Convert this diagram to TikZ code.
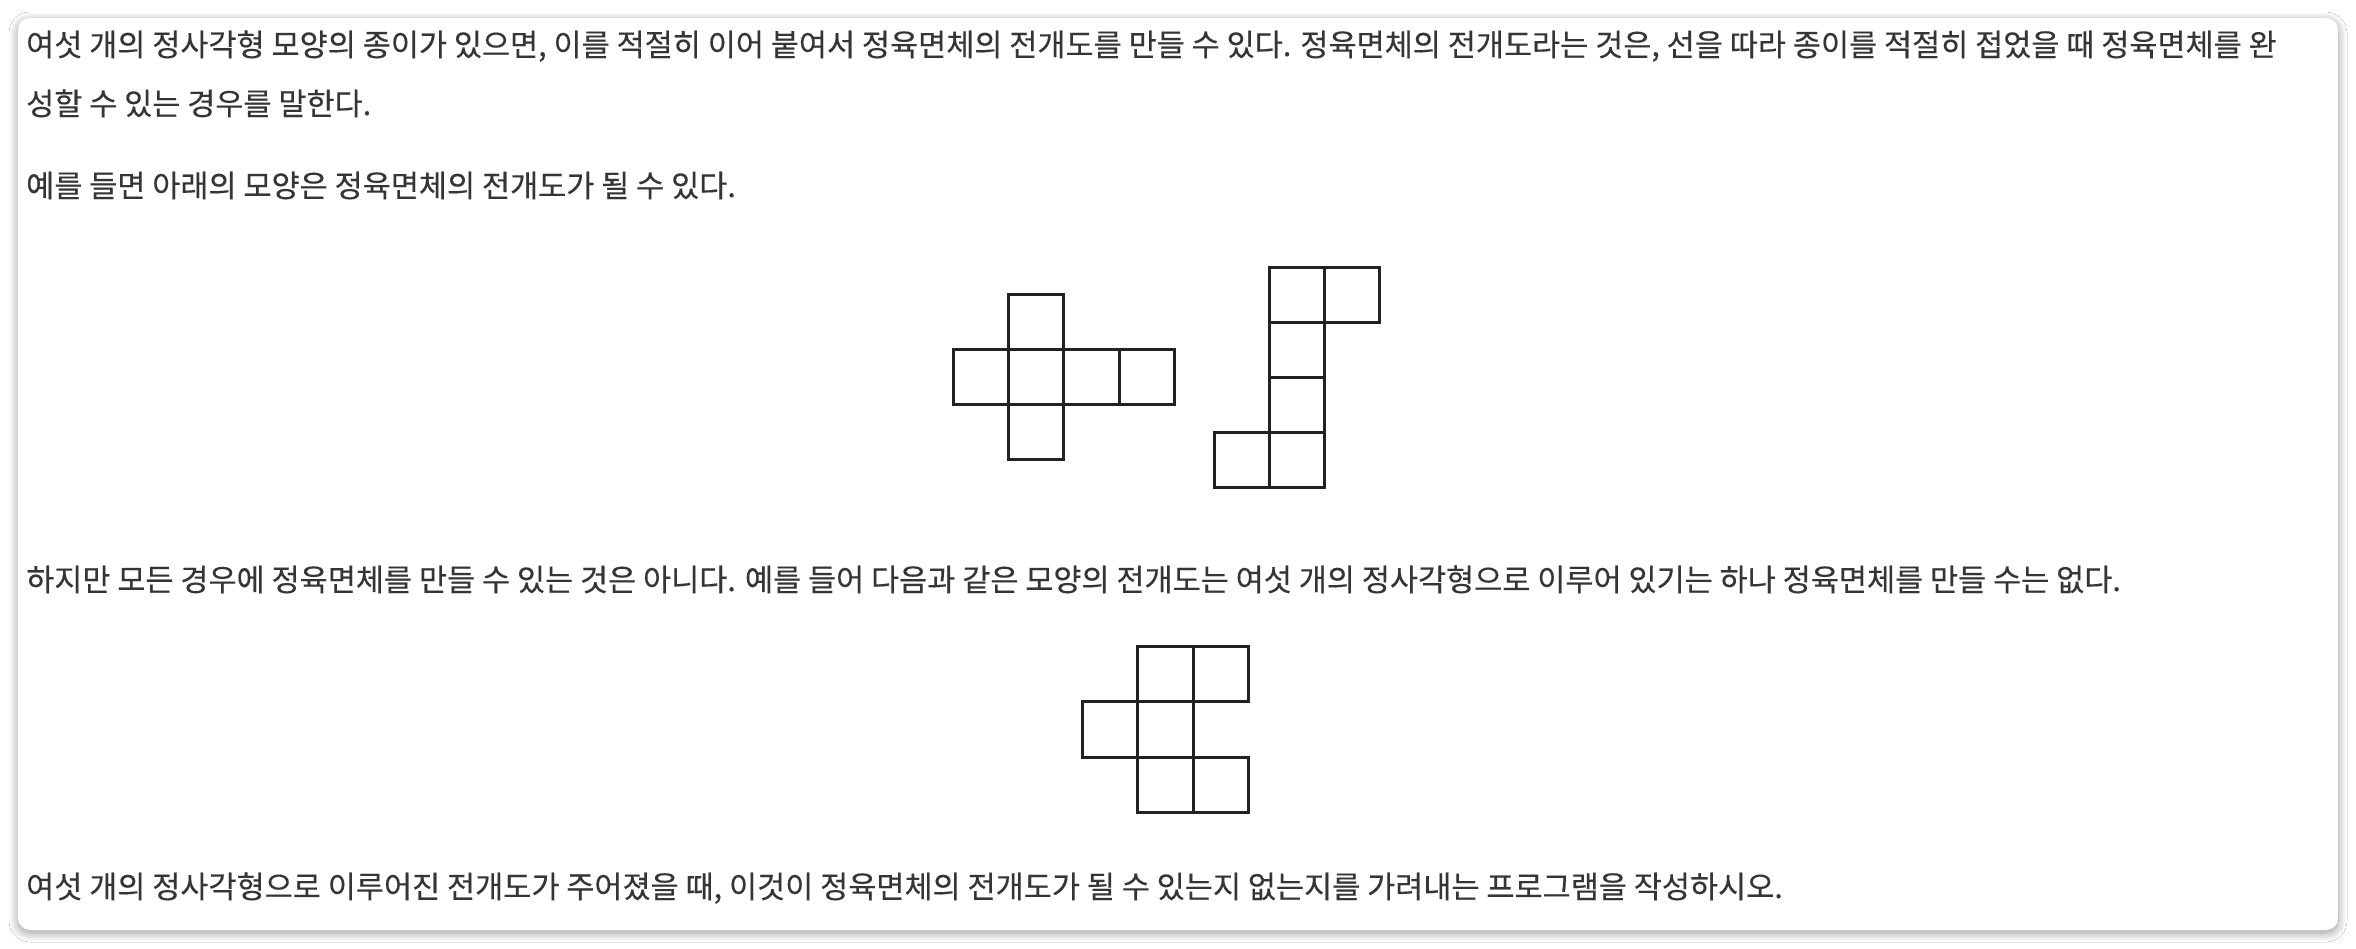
\documentclass[tikz,border=0pt]{standalone}
\usepackage{fontspec}
\newfontfamily\kr[FakeBold=0.3]{Noto Sans CJK KR}
\usetikzlibrary{shadows.blur}
\definecolor{txt}{HTML}{353535}
\definecolor{ink}{HTML}{222222}
\tikzset{
  para/.style={anchor=base west, inner sep=0pt, text=txt, font=\kr\fontsize{30.55}{36}\selectfont},
  cell/.style={draw=ink, line width=3pt},
  card/.style={fill=white, rounded corners=12pt,
    blur shadow={shadow xshift=0pt, shadow yshift=-3pt, shadow blur radius=9pt, shadow opacity=40, shadow blur steps=12}}
}
\begin{document}
\begin{tikzpicture}[x=1pt,y=-1pt]
\fill[white] (0,0) rectangle (2356,948);
\useasboundingbox (0,0) rectangle (2356,948);
\path[card] (18,18) rectangle (2338,930);
\node[para] (l1) at (26,56) {여섯 개의 정사각형 모양의 종이가 있으면, 이를 적절히 이어 붙여서 정육면체의 전개도를 만들 수 있다. 정육면체의 전개도라는 것은, 선을 따라 종이를 적절히 접었을 때 정육면체를 완};
\node[para] (l2) at (26,115) {성할 수 있는 경우를 말한다.};
\node[para] (l3) at (26,197) {예를 들면 아래의 모양은 정육면체의 전개도가 될 수 있다.};
\node[para] (l4) at (26,591) {하지만 모든 경우에 정육면체를 만들 수 있는 것은 아니다. 예를 들어 다음과 같은 모양의 전개도는 여섯 개의 정사각형으로 이루어 있기는 하나 정육면체를 만들 수는 없다.};
\node[para] (l5) at (26,898) {여섯 개의 정사각형으로 이루어진 전개도가 주어졌을 때, 이것이 정육면체의 전개도가 될 수 있는지 없는지를 가려내는 프로그램을 작성하시오.};
% net 1: cross
\foreach \c/\r in {1/0,0/1,1/1,2/1,3/1,1/2}
  \draw[cell] (953.7+55.1*\c,294.5+55.1*\r) rectangle ++(55.1,55.1);
% net 2
\foreach \c/\r in {1/0,2/0,1/1,1/2,0/3,1/3}
  \draw[cell] (1214+55.1*\c,267.3+55.1*\r) rectangle ++(55.1,55.1);
% net 3
\foreach \c/\r in {1/0,2/0,0/1,1/1,1/2,2/2}
  \draw[cell] (1082.7+55.2*\c,646.7+55.2*\r) rectangle ++(55.2,55.2);
\end{tikzpicture}
\end{document}
